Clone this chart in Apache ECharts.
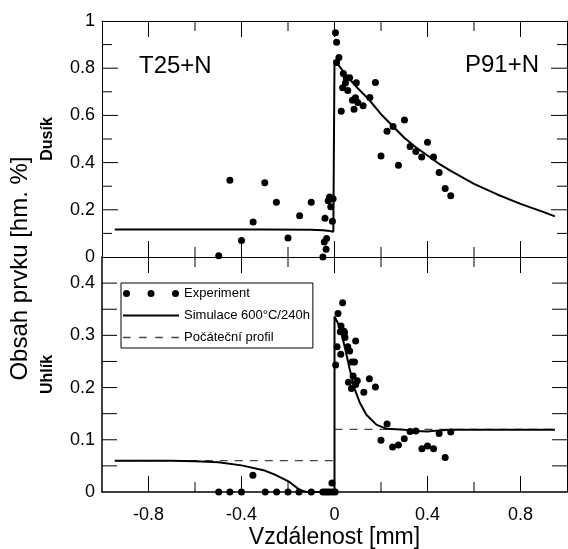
<!DOCTYPE html>
<html>
<head>
<meta charset="utf-8">
<script src="https://cdn.jsdelivr.net/npm/echarts@6/dist/echarts.min.js"></script>
<style>html,body{margin:0;padding:0;background:#fff}#c{width:568px;height:549px}</style>
</head>
<body>
<div id="c"></div>
<script>
// ---- data ----
const xTickLabels = [-0.8, -0.4, 0, 0.4, 0.8];
const xMinorTicks = [-0.6, -0.2, 0.2, 0.6];
const nitrogenMajorTicks = [0.2, 0.4, 0.6, 0.8];
const nitrogenMinorTicks = [0.1, 0.3, 0.5, 0.7, 0.9];
const carbonTicks = [0.05, 0.1, 0.15, 0.2, 0.25, 0.3, 0.35, 0.4];
const nitrogenExp = [
  [-0.498,0.005],[-0.45,0.325],[-0.40,0.07],[-0.35,0.148],[-0.30,0.315],[-0.25,0.232],[-0.20,0.08],
  [-0.15,0.175],[-0.10,0.232],[-0.05,0.0],[-0.044,0.064],[-0.034,0.078],[-0.036,0.033],[-0.041,0.164],
  [-0.021,0.254],[-0.027,0.238],[-0.006,0.247],[-0.016,0.213],[-0.009,0.151],
  [0.004,0.95],[0.009,0.91],[0.019,0.845],[0.009,0.824],[0.038,0.778],[0.05,0.76],[0.065,0.76],
  [0.047,0.737],[0.035,0.717],[0.057,0.705],[0.094,0.738],[0.176,0.739],[0.029,0.618],[0.084,0.626],
  [0.077,0.664],[0.09,0.675],[0.1,0.655],[0.123,0.641],[0.152,0.676],[0.226,0.533],[0.252,0.553],
  [0.301,0.58],[0.2,0.428],[0.275,0.389],[0.325,0.468],[0.35,0.447],[0.375,0.424],[0.40,0.486],
  [0.426,0.424],[0.45,0.358],[0.476,0.29],[0.50,0.26]
];
const nitrogenSim = [
  [-0.945,0.116],[-0.6,0.116],[-0.3,0.116],[-0.1,0.115],[-0.05,0.113],[-0.02,0.11],[-0.005,0.107],
  [0,0.106],[0,0.835],[0.02,0.81],[0.05,0.77],[0.1,0.715],[0.15,0.665],[0.2,0.605],[0.25,0.555],
  [0.3,0.505],[0.35,0.465],[0.4,0.43],[0.45,0.395],[0.5,0.365],[0.6,0.31],[0.7,0.265],[0.8,0.225],
  [0.9,0.19],[0.948,0.172]
];
const carbonExp = [
  [-0.498,0],[-0.45,0],[-0.40,0],[-0.351,0.032],[-0.298,0],[-0.249,0],[-0.20,0],[-0.153,0],[-0.10,0],
  [-0.05,0],[-0.04,0],[-0.03,0],[-0.02,0],[-0.011,0.017],[-0.008,0],[0.003,0],
  [0.035,0.3625],[0.015,0.342],[0.028,0.318],[0.041,0.308],[0.025,0.307],[0.043,0.305],[0.045,0.296],
  [0.011,0.278],[0.005,0.243],[0.027,0.264],[0.057,0.278],[0.065,0.27],[0.091,0.289],[0.075,0.249],
  [0.086,0.249],[0.08,0.222],[0.06,0.21],[0.098,0.213],[0.073,0.198],[0.091,0.206],[0.126,0.191],
  [0.15,0.217],[0.176,0.201],[0.226,0.13],[0.2,0.099],[0.25,0.086],[0.275,0.09],[0.3,0.102],
  [0.325,0.116],[0.35,0.117],[0.376,0.083],[0.40,0.088],[0.426,0.083],[0.45,0.112],[0.476,0.066],[0.50,0.115]
];
const carbonSim = [
  [-0.945,0.06],[-0.7,0.06],[-0.6,0.059],[-0.5,0.057],[-0.4,0.051],[-0.3,0.041],[-0.25,0.032],
  [-0.2,0.021],[-0.17,0.011],[-0.15,0.004],[-0.12,0],[0,0],[0,0.336],[0.008,0.336],[0.022,0.317],
  [0.044,0.278],[0.065,0.236],[0.087,0.197],[0.108,0.172],[0.137,0.148],[0.18,0.129],[0.224,0.121],
  [0.3,0.119],[0.35,0.117],[0.4,0.116],[0.45,0.118],[0.5,0.119],[0.948,0.119]
];
const carbonInit = [[-0.945,0.06],[0,0.06],[0,'-'],[0,0.12],[0.948,0.12]];

// ---- layout ----
const FONT = 'Liberation Sans, Arial, sans-serif';
const BLK = '#000';
const X_MIN = -1, X_MAX = 1;
const N_MAX = 1, C_MAX = 0.45;
const GRID_LEFT = 102, GRID_W = 465, TOP_H = 236, BOT_H = 235;
const gridBase = {left:GRID_LEFT, width:GRID_W, outerBoundsMode:'none', containLabel:false};
const grids = [
  Object.assign({top:21, height:TOP_H}, gridBase),
  Object.assign({top:257, height:BOT_H}, gridBase),
  Object.assign({top:33, height:471}, gridBase)
];
function xMain(gi, pos, labels, lw) {
  return {
    type:'value', gridIndex:gi, position:pos, min:X_MIN, max:X_MAX, interval:0.2,
    axisLine:{show:true, onZero:false, lineStyle:{color:BLK, width:lw||1}},
    axisTick:{show:false}, minorTick:{show:false},
    axisLabel:{show:labels, fontSize:18, color:BLK, fontFamily:FONT, margin:14,
      formatter: v => xTickLabels.some(t => Math.abs(t - v) < 1e-9) ? String(+v.toFixed(1)) : ''},
    splitLine:{show:false}
  };
}
const xb1 = xMain(1, 'bottom', true, 1.5);
xb1.name = 'Vzdálenost [mm]';
xb1.nameLocation = 'middle';
xb1.nameGap = 34;
xb1.nameTextStyle = {fontSize:23, color:BLK, fontFamily:FONT};
const xAxes = [
  xMain(0, 'bottom', false), xMain(0, 'top', false),
  xb1, xMain(1, 'top', false),
  {type:'value', gridIndex:2, show:false, min:X_MIN, max:X_MAX}
];
function yTop(pos, labels) {
  const a = {
    type:'value', gridIndex:0, position:pos, min:0, max:N_MAX, interval:0.2,
    axisLine:{show:true, onZero:false, lineStyle:{color:BLK, width:1}},
    axisTick:{show:false}, minorTick:{show:false},
    axisLabel:{show:labels, fontSize:18, color:BLK, fontFamily:FONT, margin:7},
    splitLine:{show:false}, minorSplitLine:{show:false}
  };
  if (labels) {
    a.name = 'Dusík'; a.nameLocation = 'middle'; a.nameGap = 46;
    a.nameTextStyle = {fontSize:16, fontWeight:'bold', color:BLK, fontFamily:FONT};
  }
  return a;
}
function yBot(pos, labels) {
  const a = {
    type:'value', gridIndex:1, position:pos, min:0, max:C_MAX, interval:0.05,
    axisLine:{show:true, onZero:false, lineStyle:{color:BLK, width:pos==='left'?1.5:1}},
    axisTick:{show:false}, minorTick:{show:false},
    axisLabel:{show:labels, fontSize:18, color:BLK, fontFamily:FONT, margin:7,
      formatter: v => {const t = v*10; return Math.abs(t - Math.round(t)) < 1e-6 ? String(+v.toFixed(1)) : '';}},
    splitLine:{show:false}
  };
  if (labels) {
    a.name = 'Uhlík'; a.nameLocation = 'middle'; a.nameGap = 46;
    a.nameTextStyle = {fontSize:16, fontWeight:'bold', color:BLK, fontFamily:FONT};
  }
  return a;
}
const yAxes = [
  yTop('left', true), yTop('right', false),
  yBot('left', true), yBot('right', false),
  {type:'value', gridIndex:2, position:'left', min:0, max:1,
    axisLine:{show:false}, axisTick:{show:false}, axisLabel:{show:false}, splitLine:{show:false},
    name:'Obsah prvku [hm. %]', nameLocation:'middle', nameGap:70,
    nameTextStyle:{fontSize:24, color:BLK, fontFamily:FONT}}
];

// ---- tick marks on all four sides, drawn as short segments through the axes' scales ----
const MAJOR_PX = 16, MINOR_PX = 10, CARBON_PX = 15;
function buildTicks(yMax, gridH, yTicks) {
  const segs = [];
  const dy = px => px / gridH * yMax;
  const dx = px => px / GRID_W * (X_MAX - X_MIN);
  const addX = (v, px) => {
    segs.push([v, 0], [v, dy(px)], [v, '-']);
    segs.push([v, yMax], [v, yMax - dy(px)], [v, '-']);
  };
  const addY = (v, px) => {
    segs.push([X_MIN, v], [X_MIN + dx(px), v], ['-', v]);
    segs.push([X_MAX, v], [X_MAX - dx(px), v], ['-', v]);
  };
  xTickLabels.forEach(v => addX(v, MAJOR_PX));
  xMinorTicks.forEach(v => addX(v, MINOR_PX));
  yTicks.forEach(t => addY(t[0], t[1]));
  return segs;
}
const upperTicks = buildTicks(N_MAX, TOP_H,
  nitrogenMajorTicks.map(v => [v, MAJOR_PX]).concat(nitrogenMinorTicks.map(v => [v, MINOR_PX])));
const lowerTicks = buildTicks(C_MAX, BOT_H, carbonTicks.map(v => [v, CARBON_PX]));

const dotsIcon = 'path://M0,3.5a3.5,3.5 0 1,0 7,0a3.5,3.5 0 1,0 -7,0Z M24.5,3.5a3.5,3.5 0 1,0 7,0a3.5,3.5 0 1,0 -7,0Z M49,3.5a3.5,3.5 0 1,0 7,0a3.5,3.5 0 1,0 -7,0Z';
const lineIcon = 'path://M0,0h56v2h-56Z';
const dashIcon = 'path://M0,0h7v1.3h-7Z M15,0h7v1.3h-7Z M30,0h7v1.3h-7Z M45,0h7v1.3h-7Z';

const labelStyle = {fontSize:24, fontWeight:'normal', color:BLK, fontFamily:FONT};
const tickSeries = (xi, yi, data) => ({
  name:'ticks' + xi, type:'line', xAxisIndex:xi, yAxisIndex:yi, data:data,
  symbol:'none', showSymbol:false, connectNulls:false, silent:true, clip:false,
  color:BLK, lineStyle:{color:BLK, width:1}, z:1
});
const option = {
  animation:false,
  backgroundColor:'#fff',
  title:[
    {text:'T25+N', left:139, top:54, padding:0, textStyle:labelStyle},
    {text:'P91+N', left:465, top:53, padding:0, textStyle:labelStyle}
  ],
  grid:grids,
  xAxis:xAxes,
  yAxis:yAxes,
  legend:{
    show:true, orient:'vertical', left:121, top:283,
    padding:[4,3,4,2], itemGap:9, itemWidth:56, itemHeight:8,
    borderColor:BLK, borderWidth:1, backgroundColor:'#fff',
    symbolKeepAspect:true,
    itemStyle:{borderWidth:0},
    textStyle:{fontSize:13, color:BLK, fontFamily:FONT},
    data:[
      {name:'Experiment', icon:dotsIcon},
      {name:'Simulace 600°C/240h', icon:lineIcon},
      {name:'Počáteční profil', icon:dashIcon}
    ],
    z:10
  },
  series:[
    tickSeries(0, 0, upperTicks),
    tickSeries(2, 2, lowerTicks),
    {name:'Simulace 600°C/240h', type:'line', xAxisIndex:0, yAxisIndex:0, data:nitrogenSim,
      symbol:'none', color:BLK, lineStyle:{color:BLK, width:2}, z:3},
    {name:'Experiment', type:'scatter', xAxisIndex:0, yAxisIndex:0, data:nitrogenExp,
      symbol:'circle', symbolSize:7, color:BLK, itemStyle:{color:BLK, opacity:1}, z:4},
    {name:'Počáteční profil', type:'line', xAxisIndex:2, yAxisIndex:2, data:carbonInit,
      symbol:'none', color:'#444', lineStyle:{color:'#444', width:1.3, type:[8,7]}, z:2},
    {name:'Simulace 600°C/240h', type:'line', xAxisIndex:2, yAxisIndex:2, data:carbonSim,
      symbol:'none', color:BLK, lineStyle:{color:BLK, width:2}, z:3},
    {name:'Experiment', type:'scatter', xAxisIndex:2, yAxisIndex:2, data:carbonExp,
      symbol:'circle', symbolSize:7, color:BLK, itemStyle:{color:BLK, opacity:1}, z:4}
  ]
};
const chart = echarts.init(document.getElementById('c'), null, {renderer:'canvas'});
chart.setOption(option);
</script>
</body>
</html>
